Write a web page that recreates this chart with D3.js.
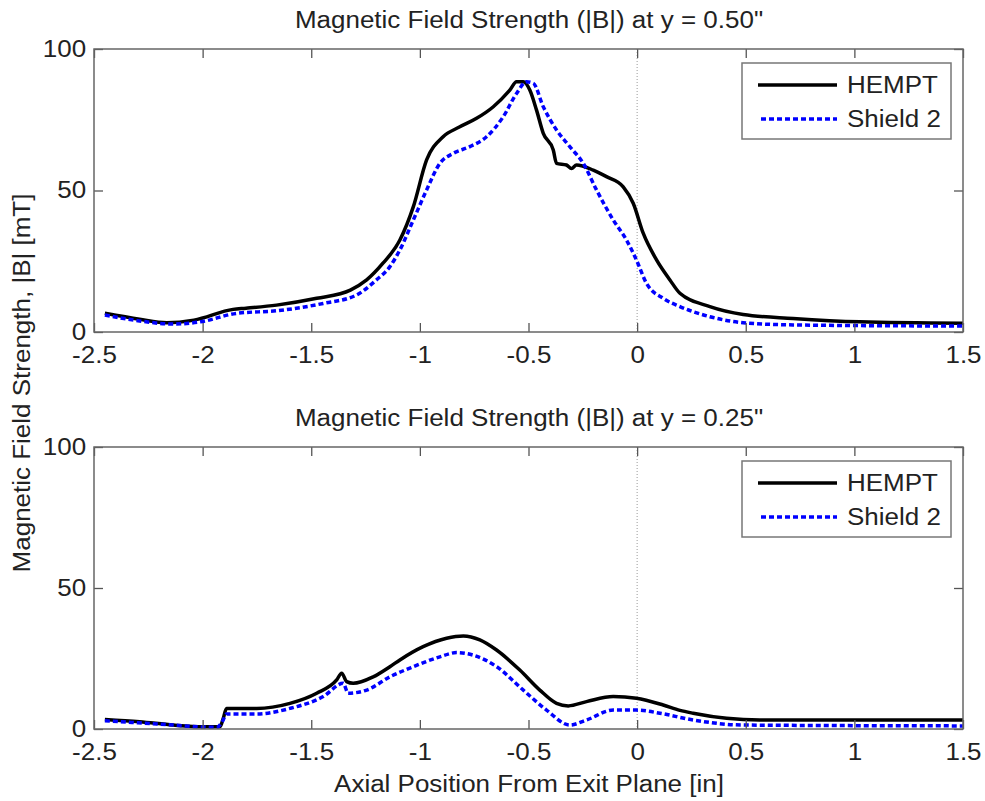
<!DOCTYPE html>
<html>
<head>
<meta charset="utf-8">
<script src="https://cdn.jsdelivr.net/npm/d3@7"></script>
<style>
  body { margin: 0; background: #fff; }
  text { font-family: "Liberation Sans", Arial, sans-serif; fill: #222; }
</style>
</head>
<body>
<svg></svg>
<script>
const width = 985
const height = 801

// x ticks / y ticks
const xTicks = [-2.5, -2, -1.5, -1, -0.5, 0, 0.5, 1, 1.5]
const yTicks = [0, 50, 100]
const seriesNames = ["HEMPT", "Shield 2"]

// y = 0.50" panel
const topHemptX = [-2.45, -2.29, -2.165, -2.04, -1.86, -1.80, -1.66, -1.475, -1.32, -1.245, -1.17, -1.092, -1.03, -0.969, -0.893, -0.816, -0.739, -0.662, -0.586, -0.555, -0.524, -0.494, -0.463, -0.432, -0.386, -0.371, -0.325, -0.302, -0.279, -0.202, -0.141, -0.064, -0.018, 0.028, 0.09, 0.151, 0.197, 0.335, 0.488, 0.718, 1.025, 1.5]
const topHemptB = [6.6, 4.5, 3.3, 4.2, 8.0, 8.4, 9.5, 11.9, 14.8, 18.4, 24.3, 32.5, 44.3, 60.8, 69, 72.5, 75.5, 79.6, 85.5, 88.4, 88.4, 85.5, 78.4, 70.2, 64.3, 59.6, 59, 57.8, 59, 57.2, 54.9, 51.3, 45.5, 34.9, 25.4, 18.4, 13.7, 9, 6.2, 4.8, 3.6, 3.1]
const topShieldX = [-2.45, -2.29, -2.135, -2.01, -1.843, -1.66, -1.445, -1.291, -1.2, -1.138, -1.092, -1.03, -0.969, -0.908, -0.847, -0.77, -0.693, -0.616, -0.555, -0.509, -0.478, -0.432, -0.371, -0.31, -0.248, -0.187, -0.11, -0.049, -0.003, 0.043, 0.12, 0.197, 0.335, 0.488, 0.718, 1.5]
const topShieldB = [6.0, 3.9, 2.8, 3.6, 6.6, 7.5, 10.1, 13.1, 18.4, 23.1, 29, 39.6, 50.2, 59.6, 63.1, 65.5, 69, 76.1, 84.3, 88.4, 87.9, 79.6, 71.4, 65.5, 59.6, 50.2, 39.6, 32.5, 25.4, 17.2, 11.9, 9, 5.4, 3.3, 2.5, 2.1]

// y = 0.25" panel
const botHemptX = [-2.45, -2.29, -2.135, -1.997, -1.92, -1.905, -1.89, -1.751, -1.598, -1.475, -1.383, -1.36, -1.337, -1.307, -1.215, -1.138, -1.092, -0.985, -0.877, -0.8, -0.724, -0.647, -0.54, -0.448, -0.371, -0.317, -0.233, -0.11, -0.003, 0.12, 0.197, 0.258, 0.412, 0.565, 1.5]
const botHemptB = [3.4, 2.6, 1.4, 0.8, 0.8, 3.8, 7.3, 7.3, 9.1, 12.7, 17.4, 19.8, 16.8, 16.2, 18.5, 22.1, 24.5, 29.2, 32.2, 33, 31.6, 28, 20.9, 13.8, 9.1, 8.2, 9.7, 11.5, 10.9, 8.5, 6.6, 5.6, 3.8, 3.2, 3.2]
const botShieldX = [-2.45, -2.21, -1.935, -1.91, -1.89, -1.751, -1.598, -1.445, -1.353, -1.33, -1.245, -1.138, -1.03, -0.908, -0.831, -0.755, -0.647, -0.524, -0.417, -0.31, -0.233, -0.11, -0.003, 0.105, 0.258, 0.488, 1.5]
const botShieldB = [2.9, 1.8, 0.6, 2.5, 5.3, 5.3, 7.3, 11.5, 16.2, 12.7, 13.8, 18.5, 22.1, 25.6, 27.1, 26.2, 22.1, 13.8, 6.7, 1.4, 3.2, 6.7, 6.7, 5.6, 3.2, 1.4, 1.1]

const fontSize = 23
const stretch = "scale(1.13,1)"

const svg = d3.select("svg")
  .attr("width", width)
  .attr("height", height)
  .style("background", "#fff")

const x = d3.scaleLinear().domain([-2.5, 1.5]).range([94, 963])

function toPoints(xs, ys) {
  return xs.map((v, i) => [v, ys[i]])
}

function drawPanel(top, bottom, title, hempt, shield) {
  const y = d3.scaleLinear().domain([0, 100]).range([bottom, top])
  const g = svg.append("g")

  // exit plane
  g.append("line")
    .attr("x1", x(0)).attr("x2", x(0))
    .attr("y1", y(100)).attr("y2", y(0))
    .attr("stroke", "#999")
    .attr("stroke-width", 1)
    .attr("stroke-dasharray", "1,2")

  const line = d3.line()
    .x(d => x(d[0]))
    .y(d => y(d[1]))
    .curve(d3.curveMonotoneX)

  g.append("path")
    .datum(hempt)
    .attr("d", line)
    .attr("fill", "none")
    .attr("stroke", "#000")
    .attr("stroke-width", 3.5)
    .attr("stroke-linejoin", "round")

  g.append("path")
    .datum(shield)
    .attr("d", line)
    .attr("fill", "none")
    .attr("stroke", "#0000ff")
    .attr("stroke-width", 3.5)
    .attr("stroke-dasharray", "5,3")

  // axes, ticks pointing inward like matlab
  g.append("g")
    .attr("transform", `translate(0,${bottom})`)
    .call(d3.axisBottom(x).tickValues(xTicks).tickSizeInner(-9).tickSizeOuter(0).tickPadding(15).tickFormat(d => String(d)))
  g.append("g")
    .attr("transform", `translate(0,${top})`)
    .call(d3.axisTop(x).tickValues(xTicks).tickSizeInner(-9).tickSizeOuter(0).tickFormat(""))
  g.append("g")
    .attr("transform", `translate(94,0)`)
    .call(d3.axisLeft(y).tickValues(yTicks).tickSizeInner(-9).tickSizeOuter(0).tickPadding(7).tickFormat(d => String(d)))
  g.append("g")
    .attr("transform", `translate(963,0)`)
    .call(d3.axisRight(y).tickValues(yTicks).tickSizeInner(-9).tickSizeOuter(0).tickFormat(""))

  g.selectAll(".domain").remove()
  g.selectAll(".tick line").attr("stroke", "#555").attr("stroke-width", 1.3)
  g.selectAll(".tick text")
    .attr("font-family", "Liberation Sans, Arial, sans-serif")
    .attr("font-size", fontSize)
    .attr("fill", "#222")
    .attr("transform", stretch)

  g.append("rect")
    .attr("x", 94).attr("y", top)
    .attr("width", 963 - 94).attr("height", bottom - top)
    .attr("fill", "none")
    .attr("stroke", "#666")
    .attr("stroke-width", 1.5)

  g.append("text")
    .attr("transform", `translate(529,${top - 21}) ${stretch}`)
    .attr("text-anchor", "middle")
    .style("font-size", fontSize + "px")
    .text(title)

  // legend
  const lg = g.append("g").attr("transform", `translate(742,${top + 14})`)
  lg.append("rect")
    .attr("width", 209).attr("height", 76)
    .attr("fill", "#fff")
    .attr("stroke", "#777")
    .attr("stroke-width", 1.5)
  lg.append("line")
    .attr("x1", 16).attr("x2", 95).attr("y1", 22).attr("y2", 22)
    .attr("stroke", "#000").attr("stroke-width", 3.5)
  lg.append("line")
    .attr("x1", 19).attr("x2", 95).attr("y1", 56).attr("y2", 56)
    .attr("stroke", "#0000ff").attr("stroke-width", 3.5)
    .attr("stroke-dasharray", "5,3")
  seriesNames.forEach((name, i) => {
    lg.append("text")
      .attr("transform", `translate(105,${22 + i * 34}) ${stretch}`)
      .attr("dy", "0.36em")
      .style("font-size", fontSize + "px")
      .text(name)
  })
}

drawPanel(49, 332, "Magnetic Field Strength (|B|) at y = 0.50\"",
  toPoints(topHemptX, topHemptB), toPoints(topShieldX, topShieldB))
drawPanel(447, 729, "Magnetic Field Strength (|B|) at y = 0.25\"",
  toPoints(botHemptX, botHemptB), toPoints(botShieldX, botShieldB))

svg.append("text")
  .attr("transform", `translate(29.5,383) rotate(-90) ${stretch}`)
  .attr("text-anchor", "middle")
  .style("font-size", fontSize + "px")
  .text("Magnetic Field Strength, |B| [mT]")

svg.append("text")
  .attr("transform", `translate(529,792) ${stretch}`)
  .attr("text-anchor", "middle")
  .style("font-size", fontSize + "px")
  .text("Axial Position From Exit Plane [in]")
</script>
</body>
</html>
